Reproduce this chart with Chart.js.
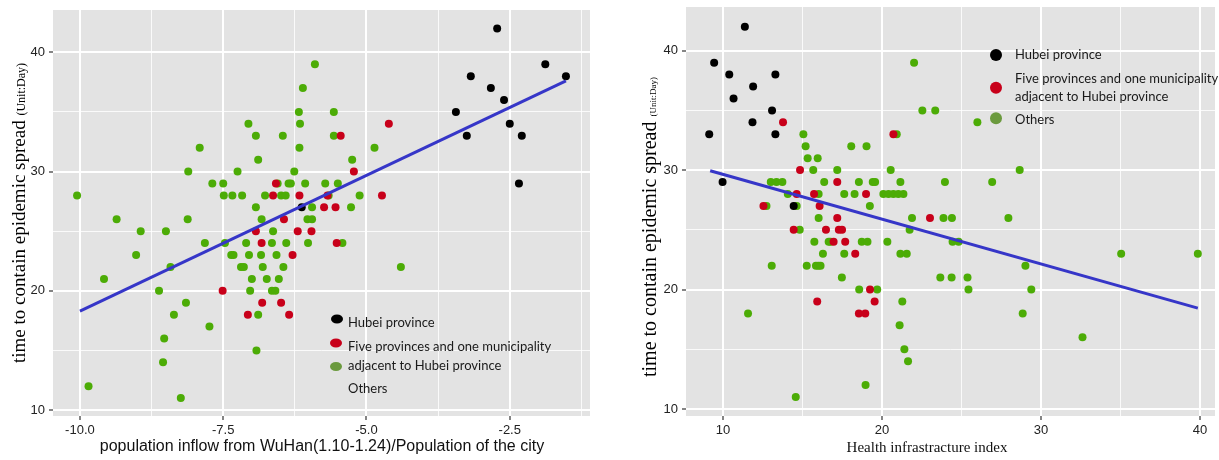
<!DOCTYPE html>
<html>
<head>
<meta charset="utf-8">
<script src="https://cdn.jsdelivr.net/npm/chart.js@4.4.1/dist/chart.umd.min.js"></script>
<style>
  html, body { margin: 0; padding: 0; background: #fff; }
  body { width: 1219px; height: 460px; position: relative; overflow: hidden; }
  canvas { position: absolute; top: 0; }
  #left { left: 0; width: 610px; height: 460px; }
  #right { left: 610px; width: 609px; height: 460px; }
</style>
</head>
<body>
<canvas id="left" width="610" height="460"></canvas>
<canvas id="right" width="609" height="460"></canvas>
<script>
// group names (legend)
const groupNames = ["Hubei province", "Five provinces and one municipality", "adjacent to Hubei province", "Others"];

// ---- left chart: population inflow from Wuhan vs days ----
const leftHubeiX = [-2.72, -1.88, -1.52, -3.18, -2.83, -2.60, -3.44, -2.50, -3.25, -2.29, -2.34, -6.13];
const leftHubeiY = [42, 39, 38, 38, 37, 36, 35, 34, 33, 33, 29, 27];

const leftAdjX = [-4.61, -5.45, -5.22, -6.58, -6.63, -6.17, -5.68, -4.73, -5.74, -5.54, -6.44,
    -6.93, -6.20, -5.96, -6.83, -5.52, -6.29, -7.51, -6.82, -6.49, -7.07, -6.35];
const leftAdjY = [34, 33, 30, 29, 28, 28, 28, 28, 27, 27, 26,
    25, 25, 25, 24, 24, 23, 20, 19, 19, 18, 18];

const leftOtherX = [-5.90, -6.11, -6.18, -5.57, -7.06, -6.16, -6.93, -6.46, -5.57,
    -7.91, -6.17, -4.86, -6.89, -5.25, -8.11, -7.25, -6.26,
    -7.69, -7.50, -6.55, -6.36, -6.32, -6.07, -5.72, -5.50,
    -10.05, -7.49, -7.34, -7.17, -6.77, -6.49, -6.41, -5.66, -5.12,
    -6.93, -5.95, -5.27, -9.36, -8.12, -6.83, -6.03, -5.95,
    -8.94, -8.50, -6.63, -7.82, -7.47, -7.10, -6.65, -6.40, -6.02, -5.42,
    -9.02, -7.36, -7.32, -7.05, -6.84, -6.57, -8.42, -7.19, -7.14, -6.81, -6.45, -4.40,
    -9.58, -7.00, -6.74, -6.53, -8.62, -7.03, -6.65, -6.59,
    -8.15, -8.36, -6.89, -7.74, -8.53, -6.92, -8.55, -9.85, -8.24];
const leftOtherY = [39, 37, 35, 35, 34, 34, 33, 33, 33,
    32, 32, 32, 31, 31, 30, 30, 30,
    29, 29, 29, 29, 29, 29, 29, 29,
    28, 28, 28, 28, 28, 28, 28, 28, 28,
    27, 27, 27, 26, 26, 26, 26, 26,
    25, 25, 25, 24, 24, 24, 24, 24, 24, 24,
    23, 23, 23, 23, 23, 23, 22, 22, 22, 22, 22, 22,
    21, 21, 21, 21, 20, 20, 20, 20,
    19, 18, 18, 17, 16, 15, 14, 12, 11];

const leftFitX = [-10.0, -1.52];
const leftFitY = [18.3, 37.6];

const leftXTicks = [-10, -8.75, -7.5, -6.25, -5, -3.75, -2.5, -1.25];
const leftXMajor = [-10, -7.5, -5, -2.5];
const leftXLabels = ["-10.0", "-7.5", "-5.0", "-2.5"];

// ---- right chart: health infrastructure index vs days ----
const rightHubeiX = [11.38, 9.45, 10.40, 13.30, 11.90, 10.67, 13.09, 11.86, 9.14, 13.30, 9.98, 14.45];
const rightHubeiY = [42, 39, 38, 38, 37, 36, 35, 34, 33, 33, 29, 27];

const rightAdjX = [13.78, 20.72, 14.85, 17.19, 14.64, 15.73, 19.00, 12.55, 16.08, 17.19, 23.02,
    14.45, 16.48, 17.29, 17.49, 16.96, 17.69, 18.32, 19.25, 15.93, 19.54, 18.55, 18.95];
const rightAdjY = [34, 33, 30, 29, 28, 28, 28, 27, 27, 26, 26,
    25, 25, 25, 25, 24, 24, 23, 20, 19, 19, 18, 18];

const rightOtherX = [22.02, 22.54, 23.35, 26.0, 15.06, 20.93, 15.20, 18.07, 19.03, 15.33, 15.96,
    15.68, 17.19, 20.55, 28.66,
    13.01, 13.37, 13.74, 16.37, 18.55, 19.42, 19.57, 21.16, 23.96, 26.93,
    14.08, 16.02, 17.63, 18.28, 20.09, 20.41, 20.72, 21.03, 21.35,
    12.74, 14.64, 19.24, 16.02, 21.89, 23.87, 24.40, 27.95, 14.83, 21.74,
    15.75, 16.65, 16.77, 18.73, 19.09, 20.34, 24.44, 24.82,
    16.29, 17.63, 21.16, 21.56, 35.04, 39.86,
    13.07, 15.27, 15.85, 16.00, 16.14, 29.02,
    17.48, 23.67, 24.38, 25.38, 18.57, 19.70, 25.44, 29.39,
    21.28, 11.58, 28.85, 21.11, 32.61, 21.41, 21.64, 18.97, 14.58];
const rightOtherY = [39, 35, 35, 34, 33, 33, 32, 32, 32, 31, 31,
    30, 30, 30, 30,
    29, 29, 29, 29, 29, 29, 29, 29, 29, 29,
    28, 28, 28, 28, 28, 28, 28, 28, 28,
    27, 27, 27, 26, 26, 26, 26, 26, 25, 25,
    24, 24, 24, 24, 24, 24, 24, 24,
    23, 23, 23, 23, 23, 23,
    22, 22, 22, 22, 22, 22,
    21, 21, 21, 21, 20, 20, 20, 20,
    19, 18, 18, 17, 16, 15, 14, 12, 11];

const rightFitX = [9.2, 39.86];
const rightFitY = [29.95, 18.44];

const rightXTicks = [10, 15, 20, 25, 30, 35, 40];
const rightXMajor = [10, 20, 30, 40];
const rightXLabels = ["10", "20", "30", "40"];

const yTicks = [10, 15, 20, 25, 30, 35, 40];
const yMajor = [10, 20, 30, 40];
const yLabels = ["10", "20", "30", "40"];

const colors = { hubei: "#000000", adj: "#C8001A", other: "#4CAC06", fit: "#3636C8", panel: "#E3E3E3" };
const legendColors = ["#000000", "#C8001A", "#6B9A3E"];

const sansFont = '"Liberation Sans", Arial, sans-serif';
const serifFont = '"Liberation Serif", "Times New Roman", serif';

const toPoints = (xs, ys) => xs.map((x, i) => ({ x: x, y: ys[i] }));
const isMajor = (v, majors) => majors.some((m) => Math.abs(m - v) < 1e-9);

const panelBg = {
    id: 'panelBg',
    beforeDraw(chart) {
        const { ctx, chartArea: a } = chart;
        ctx.save();
        ctx.fillStyle = colors.panel;
        ctx.fillRect(a.left, a.top, a.right - a.left, a.bottom - a.top);
        ctx.restore();
    }
};

const figureText = {
    id: 'figureText',
    afterDraw(chart, args, o) {
        const ctx = chart.ctx;
        ctx.save();
        ctx.fillStyle = '#111111';
        ctx.textAlign = 'center';
        ctx.textBaseline = 'middle';
        ctx.font = o.xFont;
        ctx.fillText(o.xTitle, o.xTitlePos[0], o.xTitlePos[1]);

        // rotated y title, main part + smaller unit
        ctx.save();
        ctx.fillStyle = '#000000';
        ctx.translate(o.yTitlePos[0], o.yTitlePos[1]);
        ctx.rotate(-Math.PI / 2);
        ctx.textAlign = 'left';
        ctx.textBaseline = 'alphabetic';
        ctx.font = o.yFont;
        ctx.fillText(o.yTitle, 0, 0);
        const w = ctx.measureText(o.yTitle + ' ').width;
        ctx.font = o.yUnitFont;
        ctx.fillText(o.yUnit, w, 0);
        ctx.restore();

        // legend
        o.legend.markers.forEach((m, i) => {
            ctx.fillStyle = legendColors[i];
            ctx.beginPath();
            ctx.ellipse(m[0], m[1], o.legend.rx, o.legend.ry, 0, 0, Math.PI * 2);
            ctx.fill();
        });
        ctx.fillStyle = '#1a1a1a';
        ctx.font = o.legend.font;
        ctx.textAlign = 'left';
        ctx.textBaseline = 'middle';
        groupNames.forEach((name, i) => {
            ctx.fillText(name, o.legend.textX, o.legend.textY[i]);
        });
        ctx.restore();
    }
};

const makeAxis = (ticks, majors, labels, fitSize, horizontal) => ({
    type: 'linear',
    afterBuildTicks: (axis) => {
        axis.ticks = ticks.map((v) => ({ value: v }));
    },
    afterFit: (axis) => {
        if (horizontal) {
            axis.height = fitSize;
            axis.paddingLeft = 0;
            axis.paddingRight = 0;
        } else {
            axis.width = fitSize;
            axis.paddingTop = 0;
            axis.paddingBottom = 0;
        }
    },
    border: { display: false },
    grid: {
        color: (c) => (c.tick && isMajor(c.tick.value, majors)) ? '#FFFFFF' : 'rgba(255,255,255,0.8)',
        lineWidth: (c) => (c.tick && isMajor(c.tick.value, majors)) ? 2 : 1,
        tickLength: 4,
        tickWidth: 1.2,
        tickColor: (c) => (c.tick && isMajor(c.tick.value, majors)) ? '#333333' : 'rgba(0,0,0,0)'
    },
    ticks: {
        autoSkip: false,
        maxRotation: 0,
        minRotation: 0,
        padding: horizontal ? 3 : 4,
        color: '#222222',
        font: { family: sansFont, size: 13 },
        callback: (v) => {
            const k = majors.findIndex((m) => Math.abs(m - v) < 1e-9);
            return k >= 0 ? labels[k] : '';
        }
    }
});

const buildChart = (elm, p) => {
    const config = {
        type: 'scatter',
        data: {
            datasets: [
                {
                    type: 'line', label: 'fit', data: toPoints(p.fitX, p.fitY),
                    borderColor: colors.fit, borderWidth: 3, pointRadius: 0, fill: false
                },
                {
                    label: groupNames[0], data: toPoints(p.hubeiX, p.hubeiY),
                    backgroundColor: colors.hubei, borderColor: colors.hubei, borderWidth: 0, pointRadius: 4
                },
                {
                    label: groupNames[1], data: toPoints(p.adjX, p.adjY),
                    backgroundColor: colors.adj, borderColor: colors.adj, borderWidth: 0, pointRadius: 4
                },
                {
                    label: groupNames[3], data: toPoints(p.otherX, p.otherY),
                    backgroundColor: colors.other, borderColor: colors.other, borderWidth: 0, pointRadius: 4
                }
            ]
        },
        options: {
            responsive: false,
            animation: false,
            events: [],
            layout: { padding: p.padding },
            scales: {
                x: Object.assign(makeAxis(p.xTicks, p.xMajor, p.xLabels, 44, true), { min: p.xMin, max: p.xMax }),
                y: Object.assign(makeAxis(yTicks, yMajor, yLabels, p.yAxisWidth, false), { min: p.yMin, max: p.yMax })
            },
            plugins: {
                legend: { display: false },
                tooltip: { enabled: false },
                figureText: p.text
            }
        },
        plugins: [panelBg, figureText]
    };
    new Chart(elm, config);
};

buildChart(document.getElementById('left'), {
    hubeiX: leftHubeiX, hubeiY: leftHubeiY,
    adjX: leftAdjX, adjY: leftAdjY,
    otherX: leftOtherX, otherY: leftOtherY,
    fitX: leftFitX, fitY: leftFitY,
    xTicks: leftXTicks, xMajor: leftXMajor, xLabels: leftXLabels,
    xMin: -10.47, xMax: -1.10, yMin: 9.5, yMax: 43.55,
    yAxisWidth: 53,
    padding: { left: 0, right: 20, top: 10, bottom: 0 },
    text: {
        xTitle: 'population inflow from WuHan(1.10-1.24)/Population of the city',
        xFont: '16px ' + sansFont,
        xTitlePos: [322, 447],
        yTitle: 'time to contain epidemic spread',
        yUnit: '(Unit:Day)',
        yFont: '19px ' + serifFont,
        yUnitFont: '12px ' + serifFont,
        yTitlePos: [25, 363],
        legend: {
            markers: [[337, 319], [336, 343], [336, 366.5]],
            rx: 6, ry: 4.5,
            font: '13px Lato, sans-serif',
            textX: 348,
            textY: [323, 346.5, 366, 389]
        }
    }
});

buildChart(document.getElementById('right'), {
    hubeiX: rightHubeiX, hubeiY: rightHubeiY,
    adjX: rightAdjX, adjY: rightAdjY,
    otherX: rightOtherX, otherY: rightOtherY,
    fitX: rightFitX, fitY: rightFitY,
    xTicks: rightXTicks, xMajor: rightXMajor, xLabels: rightXLabels,
    xMin: 7.68, xMax: 40.94, yMin: 9.41, yMax: 43.66,
    yAxisWidth: 76,
    padding: { left: 0, right: 3, top: 7, bottom: 0 },
    text: {
        xTitle: 'Health infrastracture index',
        xFont: '15px ' + serifFont,
        xTitlePos: [317, 448],
        yTitle: 'time to contain epidemic spread',
        yUnit: '(Unit:Day)',
        yFont: '20px ' + serifFont,
        yUnitFont: '9px ' + serifFont,
        yTitlePos: [46, 377],
        legend: {
            markers: [[386, 55], [386, 87.7], [386, 118.3]],
            rx: 6, ry: 6,
            font: '13px Lato, sans-serif',
            textX: 405,
            textY: [55, 79.3, 96.7, 120]
        }
    }
});
</script>
</body>
</html>
